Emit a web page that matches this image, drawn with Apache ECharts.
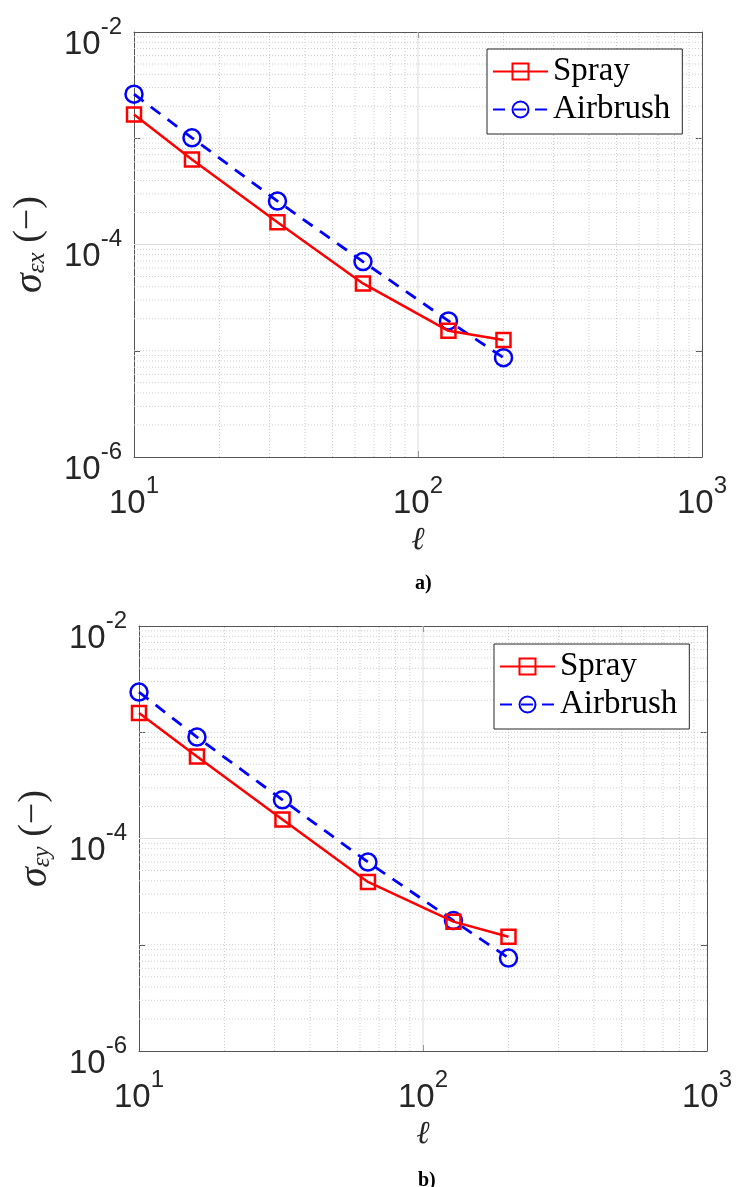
<!DOCTYPE html>
<html><head><meta charset="utf-8">
<script src="https://cdn.jsdelivr.net/npm/echarts@6/dist/echarts.min.js"></script>
<style>html,body{margin:0;padding:0;background:#fff}#c{width:736px;height:1187px}</style>
</head><body><div id="c"></div>
<script>
// ---- data ----
const lengths = [10, 16, 32, 64, 128, 200];
const sprayEx = [1.67e-3, 6.3e-4, 1.62e-4, 4.3e-5, 1.54e-5, 1.26e-5];
const airbrushEx = [2.6e-3, 1.01e-3, 2.56e-4, 6.9e-5, 1.91e-5, 8.6e-6];
const sprayEy = [1.52e-3, 5.9e-4, 1.51e-4, 3.9e-5, 1.65e-5, 1.19e-5];
const airbrushEy = [2.39e-3, 9.0e-4, 2.31e-4, 6.0e-5, 1.69e-5, 7.5e-6];
const seriesNames = ['Spray', 'Airbrush'];
const xTickExponents = [1, 2, 3];
const yTickExponents = [-6, -4, -2];
const captions = ['a)', 'b)'];
const yTitles = ['{s|σ}{sub|εx}{p| (−)}', '{s|σ}{sub|εy}{p| (−)}'];
const xTitle = 'ℓ';

// ---- axis ranges / grid line positions (log decades) ----
const xRange = [10, 1000];
const yRange = [1e-6, 1e-2];
const mant = [2, 3, 4, 5, 6, 7, 8, 9];
const yMinor = [];
[-6, -5, -4, -3].forEach(e => {
  if (e % 2 !== 0) yMinor.push(Math.pow(10, e));
  mant.forEach(m => yMinor.push(m * Math.pow(10, e)));
});
const yMajor = [1e-4];
const xMinor = [];
[1, 2].forEach(e => mant.forEach(m => xMinor.push(m * Math.pow(10, e))));
const xMajor = [100];

const frameColor = '#555555';
const tickColor = '#262626';
const sansFont = 'Liberation Sans';
const serifFont = 'Liberation Serif';

const grids = [
  { left: 134, top: 32, width: 568, height: 425 },
  { left: 139, top: 626, width: 568, height: 425 }
];
const legendPos = [{ left: 487, top: 49 }, { left: 494, top: 644 }];
const captionPos = [{ x: 415, y: 574 }, { x: 418, y: 1171 }];

function xLabelFmt(v) {
  const e = Math.round(Math.log10(v));
  return xTickExponents.includes(e) ? '{b|10}{s|' + e + '}' : '';
}
function yLabelFmt(v) {
  const e = Math.round(Math.log10(v));
  return yTickExponents.includes(e) ? '{b|10}{s|' + e + '}' : '';
}
const supRich = {
  b: { fontFamily: sansFont, fontSize: 33, lineHeight: 46, verticalAlign: 'bottom', color: tickColor },
  s: { fontFamily: sansFont, fontSize: 24, lineHeight: 16, verticalAlign: 'top', color: tickColor }
};

// polyline data with breaks: one segment per grid line
function hLines(vals) {
  const d = [];
  vals.forEach(v => { d.push([xRange[0], v], [xRange[1], v], [xRange[1], '-']); });
  return d;
}
function vLines(vals) {
  const d = [];
  vals.forEach(v => { d.push([v, yRange[0]], [v, yRange[1]], [v, '-']); });
  return d;
}

const xAxes = [], yAxes = [], series = [], legends = [], graphics = [];
grids.forEach((g, gi) => {
  xAxes.push({
    gridIndex: gi, type: 'log', min: xRange[0], max: xRange[1], position: 'bottom',
    axisLine: { show: true, lineStyle: { color: frameColor, width: 1 } },
    axisTick: { show: true, inside: true, length: 6, lineStyle: { color: frameColor } },
    axisLabel: { formatter: xLabelFmt, margin: 17, rich: supRich },
    splitLine: { show: false },
    name: xTitle, nameLocation: 'middle', nameGap: 68,
    nameTextStyle: { fontFamily: serifFont, fontStyle: 'italic', fontSize: 32, color: tickColor }
  });
  xAxes.push({
    gridIndex: gi, type: 'log', min: xRange[0], max: xRange[1], position: 'top',
    axisLine: { show: true, lineStyle: { color: frameColor, width: 1 } },
    axisTick: { show: true, inside: true, length: 6, lineStyle: { color: frameColor } },
    axisLabel: { show: false }, splitLine: { show: false }
  });
  yAxes.push({
    gridIndex: gi, type: 'log', min: yRange[0], max: yRange[1], position: 'left',
    axisLine: { show: true, lineStyle: { color: frameColor, width: 1 } },
    axisTick: { show: true, inside: true, length: 6, lineStyle: { color: frameColor } },
    axisLabel: { formatter: yLabelFmt, margin: 12, padding: [12, 0, 0, 0], rich: supRich },
    splitLine: { show: false },
    name: yTitles[gi], nameLocation: 'middle', nameRotate: 90, nameGap: 84,
    nameTextStyle: {
      rich: {
        s: { fontFamily: serifFont, fontStyle: 'italic', fontSize: 40, lineHeight: 40, verticalAlign: 'top', color: tickColor },
        sub: { fontFamily: serifFont, fontStyle: 'italic', fontSize: 25, lineHeight: 24, verticalAlign: 'bottom', color: tickColor },
        p: { fontFamily: serifFont, fontSize: 38, lineHeight: 40, verticalAlign: 'top', color: tickColor }
      }
    }
  });
  yAxes.push({
    gridIndex: gi, type: 'log', min: yRange[0], max: yRange[1], position: 'right',
    axisLine: { show: true, lineStyle: { color: frameColor, width: 1 } },
    axisTick: { show: true, inside: true, length: 6, lineStyle: { color: frameColor } },
    axisLabel: { show: false }, splitLine: { show: false }
  });
  const xi = gi * 2, yi = gi * 2;
  const dotted = { color: '#cccccc', width: 1, type: [1, 2] };
  const solid = { color: '#dcdcdc', width: 1, type: 'solid' };
  const gridSeries = [
    [hLines(yMinor), dotted], [vLines(xMinor), dotted],
    [hLines(yMajor), solid], [vLines(xMajor), solid]
  ];
  gridSeries.forEach(([d, ls], k) => {
    series.push({
      type: 'line', name: 'grid' + gi + '_' + k, xAxisIndex: xi, yAxisIndex: yi,
      data: d, z: 1, silent: true, animation: false, symbol: 'none',
      connectNulls: false, lineStyle: ls, emphasis: { disabled: true }, tooltip: { show: false }
    });
  });
  const sprayVals = gi === 0 ? sprayEx : sprayEy;
  const airVals = gi === 0 ? airbrushEx : airbrushEy;
  series.push({
    type: 'line', name: seriesNames[0], xAxisIndex: xi, yAxisIndex: yi,
    data: lengths.map((x, i) => [x, sprayVals[i]]),
    symbol: 'rect', symbolSize: 14, clip: false, z: 5, animation: false,
    itemStyle: { color: 'rgba(255,255,255,0)', borderColor: '#ff0000', borderWidth: 2.5 },
    lineStyle: { color: '#ff0000', width: 2.5 },
    emphasis: { disabled: true }
  });
  series.push({
    type: 'line', name: seriesNames[1], xAxisIndex: xi, yAxisIndex: yi,
    data: lengths.map((x, i) => [x, airVals[i]]),
    symbol: 'circle', symbolSize: 17, clip: false, z: 4, animation: false,
    itemStyle: { color: 'rgba(255,255,255,0)', borderColor: '#0000ff', borderWidth: 2.5 },
    lineStyle: { color: '#0000ff', width: 2.8, type: [12, 9] },
    emphasis: { disabled: true }
  });
  legends.push({
    left: legendPos[gi].left, top: legendPos[gi].top, orient: 'vertical',
    data: seriesNames, itemWidth: 55, itemHeight: 20, itemGap: 5,
    padding: [6, 12, 8, 5], borderColor: '#262626', borderWidth: 1,
    backgroundColor: '#ffffff', selectedMode: false, z: 10,
    textStyle: { fontFamily: serifFont, fontSize: 33, lineHeight: 33, color: '#000' }
  });
  graphics.push({
    type: 'text', x: captionPos[gi].x, y: captionPos[gi].y, z: 10,
    style: { text: captions[gi], font: 'bold 20px "Liberation Serif"', fill: '#000' }
  });
});

const chart = echarts.init(document.getElementById('c'), null, { renderer: 'canvas' });
chart.setOption({
  animation: false,
  backgroundColor: '#ffffff',
  grid: grids.map(g => Object.assign({ containLabel: false }, g)),
  xAxis: xAxes,
  yAxis: yAxes,
  legend: legends,
  series: series,
  graphic: graphics
});
</script>
</body></html>
